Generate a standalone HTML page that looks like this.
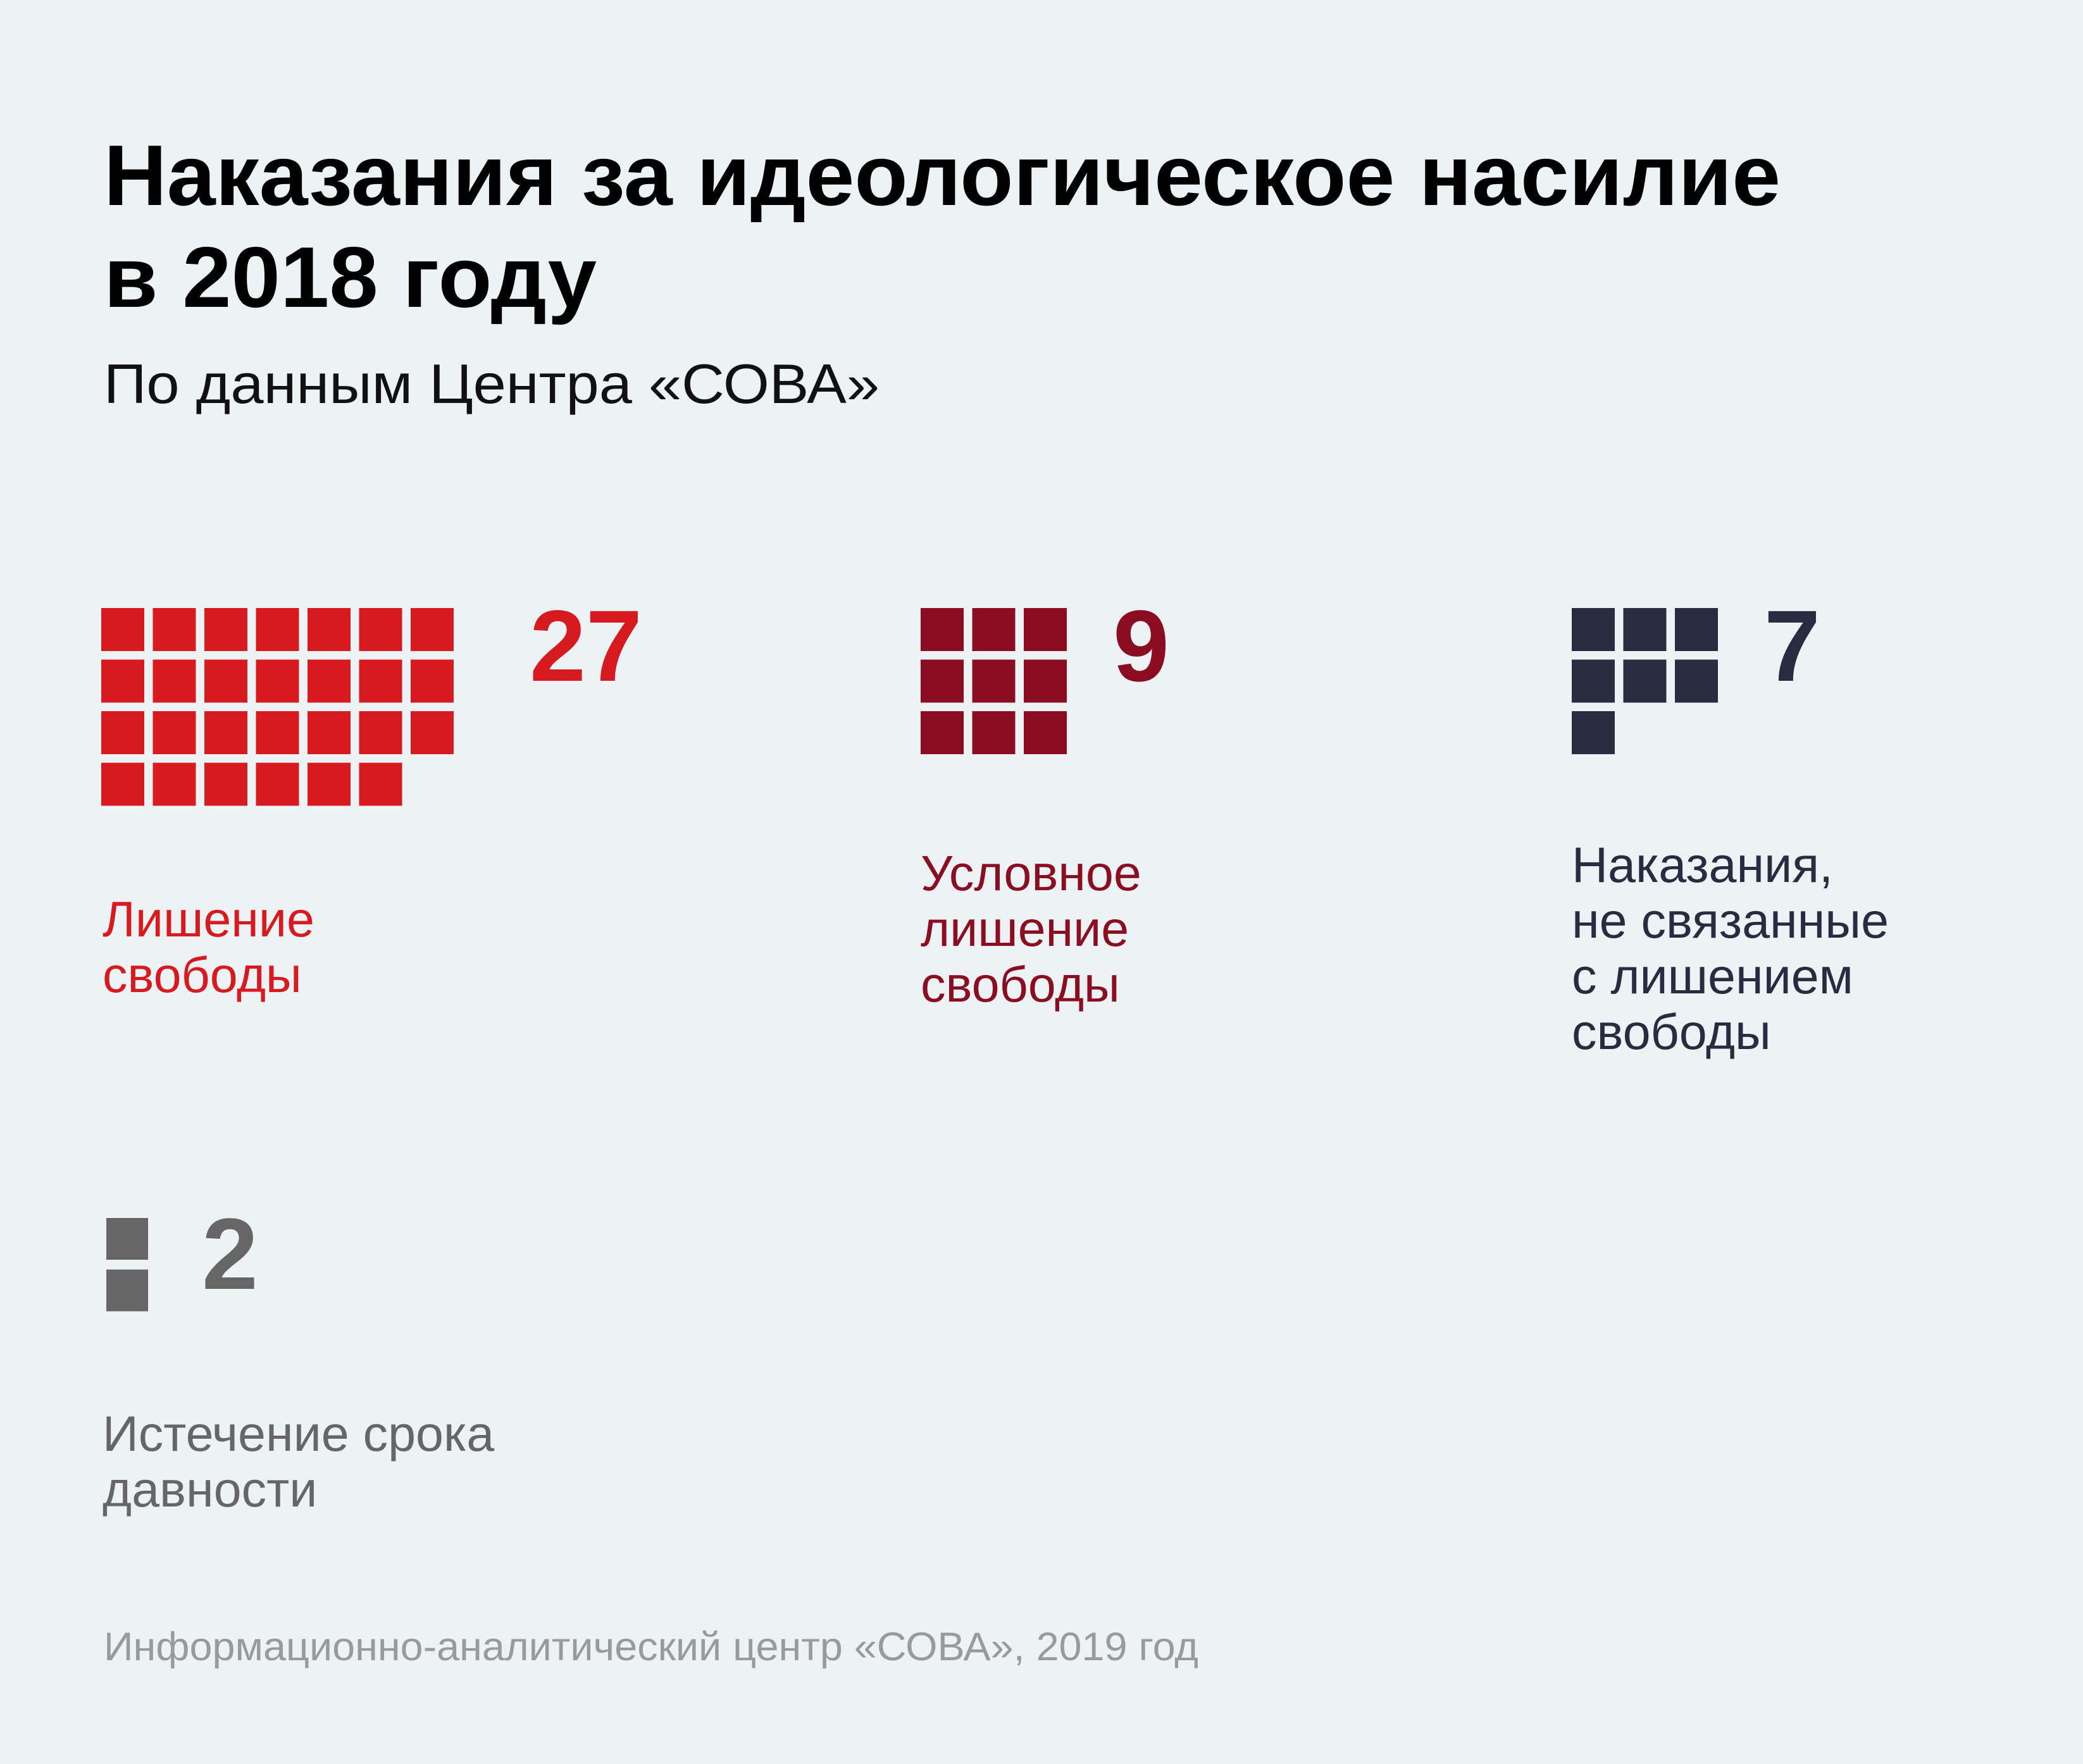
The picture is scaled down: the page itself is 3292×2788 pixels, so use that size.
<!DOCTYPE html>
<html><head><meta charset="utf-8">
<style>
html,body{margin:0;padding:0;background:#edf2f5;}
svg{display:block;}
text{font-family:"Liberation Sans","DejaVu Sans",sans-serif;}
</style></head>
<body>
<svg id="chart" width="3292" height="2788" viewBox="0 0 3292 2788">
<rect width="3292" height="2788" fill="#edf2f5"/>
<text x="164" y="324" font-size="136" font-weight="bold" fill="#000" textLength="2650" lengthAdjust="spacingAndGlyphs">Наказания за идеологическое насилие</text>
<text x="164" y="485" font-size="136" font-weight="bold" fill="#000" textLength="779" lengthAdjust="spacingAndGlyphs">в 2018 году</text>
<text x="164" y="637" font-size="88" fill="#111" textLength="1226" lengthAdjust="spacingAndGlyphs">По данным Центра «СОВА»</text>
<g id="groups"></g>
<text x="164" y="2624" font-size="63" fill="#9a9a9a" textLength="1730" lengthAdjust="spacingAndGlyphs">Информационно-аналитический центр «СОВА», 2019 год</text>
</svg>
<script>
const categories = ["Лишение свободы", "Условное лишение свободы", "Наказания, не связанные с лишением свободы", "Истечение срока давности"];
const values = [27, 9, 7, 2];
const columns = [7, 3, 3, 1];
const labelLines = [["Лишение","свободы"],["Условное","лишение","свободы"],["Наказания,","не связанные","с лишением","свободы"],["Истечение срока","давности"]];
const colors = ["#d71920","#8a0d22","#292c40","#666666"];

const layout = [
  {x:160, y:961, sq:68, step:81.5, numX:837, numBase:1076, labelX:162, labelBase:1480},
  {x:1455, y:961, sq:68, step:81.5, numX:1759, numBase:1076, labelX:1455, labelBase:1407},
  {x:2484, y:961, sq:68, step:81.5, numX:2788, numBase:1076, labelX:2484, labelBase:1394},
  {x:168, y:1925, sq:66, step:81.5, numX:319, numBase:2037, labelX:162, labelBase:2293}
];
const NS = "http://www.w3.org/2000/svg";
const root = document.getElementById("groups");
values.forEach((v, i) => {
  const L = layout[i];
  const g = document.createElementNS(NS, "g");
  
  
  root.appendChild(g);
  for (let k = 0; k < v; k++) {
    const c = k % columns[i], r = Math.floor(k / columns[i]);
    const rect = document.createElementNS(NS, "rect");
    rect.setAttribute("x", L.x + c * L.step);
    rect.setAttribute("y", L.y + r * L.step);
    rect.setAttribute("width", L.sq);
    rect.setAttribute("height", L.sq);
    rect.setAttribute("fill", colors[i]);
    
    
    g.appendChild(rect);
  }
  const num = document.createElementNS(NS, "text");
  num.setAttribute("x", L.numX);
  num.setAttribute("y", L.numBase);
  num.setAttribute("font-size", "160");
  num.setAttribute("font-weight", "bold");
  num.setAttribute("fill", colors[i]);
  num.textContent = String(v);
  
  
  g.appendChild(num);
  labelLines[i].forEach((line, j) => {
    const t = document.createElementNS(NS, "text");
    t.setAttribute("x", L.labelX);
    t.setAttribute("y", L.labelBase + j * 88);
    t.setAttribute("font-size", "79");
    t.setAttribute("fill", colors[i]);
    t.textContent = line;
    
    
    g.appendChild(t);
  });
});
</script>
</body></html>
